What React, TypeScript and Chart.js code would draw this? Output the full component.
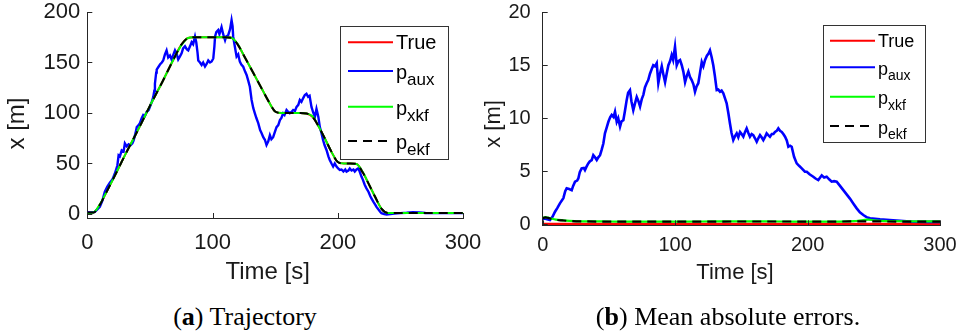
import React, { useEffect, useRef } from 'react';
import { Chart, registerables } from 'chart.js';

Chart.register(...registerables);

const SANS = '"Liberation Sans", Arial, Helvetica, sans-serif';
const SERIF = '"Liberation Serif", "Times New Roman", serif';

// ---------- (a) Trajectory ----------
const xTicks = [0, 100, 200, 300];
const trajYTicks = [0, 50, 100, 150, 200];
const errYTicks = [0, 5, 10, 15, 20];

const trajT = [0, 5, 10, 15, 20, 25, 30, 35, 40, 45, 50, 55, 60, 65, 70, 75, 80, 85, 90, 95, 100, 105, 110, 115, 120, 125, 130, 135, 140, 145, 150, 155, 160, 165, 170, 175, 180, 185, 190, 195, 200, 205, 210, 215, 220, 225, 230, 235, 240, 245, 250, 255, 260, 265, 270, 275, 280, 285, 290, 295, 300];
const trueX = [1.5, 1.5, 9, 21, 33, 45.5, 58, 70, 82, 94.5, 107, 119, 131, 143.5, 156, 167.5, 174, 175, 175, 175, 175, 175, 175, 174.5, 168, 157, 145.5, 134, 122.5, 111, 101.5, 100, 100, 100, 100, 99.5, 96, 86, 74, 61.5, 51.5, 50, 50, 49.5, 41, 29, 16.5, 5, 1, 1, 1, 1, 1, 1, 1, 1, 1, 1, 1, 1, 1];
const xkfX = [1, 1.5, 9.5, 21, 33, 45.5, 58, 70, 82, 94.5, 107, 119, 131, 143.5, 156, 167, 174, 175, 175, 175, 175, 175, 175, 174.5, 168.5, 157, 145.5, 134, 122.5, 111, 101.5, 100, 100, 100, 100, 99.5, 96.5, 86, 74, 61.5, 51.5, 50, 50, 49.5, 41.5, 29, 16.5, 5, 1, 1, 1, 1, 1, 1, 1, 1, 1, 1, 1, 1, 1];
const ekfX = [1.5, 1.5, 9, 21, 33, 45.5, 58, 70, 82, 94.5, 107, 119, 131, 143.5, 156, 167.5, 174, 175, 175, 175, 175, 175, 175, 174.5, 168, 157, 145.5, 134, 122.5, 111, 101.5, 100, 100, 100, 100, 99.5, 96, 86, 74, 61.5, 51.5, 50, 50, 49.5, 41, 29, 16.5, 5, 1, 1, 1, 1, 1, 1, 1, 1, 1, 1, 1, 1, 1];

const auxT = [0, 3, 6, 8, 10, 12, 14, 16, 18, 20, 22, 24, 25, 26, 27.5, 29, 30, 31.5, 33, 34.5, 36, 37, 38.5, 39.5, 41, 42, 43.5, 44.7, 46, 47.4, 49, 50, 51.5, 52.7, 53.5, 54, 55, 55.4, 57, 58, 59.5, 60.6, 62, 63.3, 64.6, 66, 67.3, 68.5, 70, 71.5, 72.6, 74, 75.3, 76.5, 78, 79.5, 80.6, 82, 83.3, 84.5, 86, 87, 88, 88.6, 90, 91.3, 92.5, 94, 95.5, 96.6, 98, 99.3, 100.6, 101.5, 102, 103, 104.5, 105.5, 107.2, 108.5, 110, 111, 112.5, 114, 115.2, 116, 116.5, 117.5, 119.2, 120.5, 121.8, 123, 124.5, 126, 127.2, 128.5, 129.8, 131.2, 132.5, 133.8, 135, 136.5, 138, 139.2, 140.5, 141.8, 143.1, 144.5, 145.8, 147, 148.4, 150, 151.1, 152.5, 153.8, 155, 156.4, 157.5, 159.1, 160.5, 161.7, 163, 164.4, 165.8, 167.1, 168.5, 169.7, 171, 172.5, 173.7, 175, 176.3, 177.5, 179, 180.5, 181.7, 183, 184.5, 185.7, 187, 188.3, 189.5, 191, 192.5, 193.6, 195, 196.3, 197.6, 199, 200.3, 201.6, 203, 204.5, 206, 207, 208.5, 209.6, 211, 212.5, 213.6, 215, 216.2, 217.5, 218.9, 220, 221.5, 222.9, 224.5, 226, 226.9, 228.5, 230, 230.9, 232.5, 234, 234.9, 237, 239, 242, 245, 250, 255, 260, 265, 270, 280, 290, 300];
const auxX = [1.5, 1.5, 2, 4.5, 7, 13, 22, 27, 31, 34, 40, 48, 58, 57, 63, 62, 70, 67, 69, 68, 70, 73, 80, 86, 88, 90, 95, 98, 97, 101, 103, 106, 111, 116, 122, 129, 140, 143, 146, 148, 150, 152, 158, 162, 155, 157, 153, 157, 162, 158, 153, 156, 159, 164, 166, 163, 162, 166, 170, 168, 175.6, 170, 160, 152, 150, 147.5, 150, 146, 149, 152, 150, 151, 154, 166, 175.6, 180, 182, 178, 185, 178, 172, 176, 177, 183, 192, 186, 175.6, 168, 155.8, 158, 150.8, 148, 145.8, 141, 137.6, 132, 126, 112.9, 105, 99.7, 95, 90, 83, 80, 76, 73.5, 68.3, 72, 78, 74, 76, 82, 86, 88, 93, 95, 99.7, 98, 103, 101, 99.7, 101, 103, 102, 106, 108, 112.9, 111, 115, 117.8, 119, 116, 117, 106, 100, 96, 104, 96, 86, 80, 73, 68, 63.4, 57, 53.5, 50, 47, 50, 47, 45, 43.6, 44, 42, 44, 42, 43, 45, 43, 44, 42, 44, 45, 42, 37, 34, 29, 25.4, 22, 17.5, 15.5, 12, 9, 7, 4.5, 2, 0.7, 0, -0.5, 0, 0.5, 0.8, 1.2, 1.8, 1.6, 1, 0.8, 0.8, 0.8];

// ---------- (b) Mean absolute errors ----------
const errTrueT = [0, 300];
const errTrue = [0, 0];

const errAuxT = [0, 2, 5.5, 7.5, 9.3, 11, 13, 15.6, 17, 18.1, 20, 21.9, 23, 24.4, 26, 26.9, 28, 29.4, 31, 31.9, 33, 34.4, 35.5, 37, 38.2, 39.5, 40.8, 42, 43.3, 44.5, 45.8, 47, 48.3, 49.6, 51, 52.1, 53.5, 54.6, 55.9, 57, 58.4, 59.5, 60.9, 62, 63.4, 64.5, 65.9, 67, 68.4, 69.7, 71, 72.3, 73.5, 74.8, 76, 77.2, 78.5, 79.7, 81, 82.2, 83.5, 84.8, 86.1, 87.3, 88.6, 89.9, 91, 92.4, 93.6, 94.9, 96.2, 97.4, 98.5, 99.9, 101.2, 102.5, 103.7, 105, 106.2, 107.5, 108.8, 110, 111.2, 112.5, 113.8, 115, 116.2, 117.5, 118.8, 120.1, 121.3, 122.6, 124, 125.2, 126.3, 127.5, 128.8, 130, 131.4, 132.6, 133.9, 135.1, 136.4, 137.6, 138.9, 140.2, 141.4, 142.6, 143.9, 145.2, 146.5, 147.7, 149, 150.2, 151.5, 152.8, 154, 155.3, 156.5, 157.8, 159, 160.3, 161.6, 162.8, 164.1, 165.3, 166.6, 167.8, 169.1, 170.3, 171.6, 173, 174.2, 175.4, 176.7, 177.9, 179.2, 180.5, 181.7, 183, 184.3, 185.5, 186.8, 188, 189.8, 191.8, 193.6, 195.6, 198, 199.4, 201.5, 204.3, 206, 208.1, 209.5, 210.7, 212.5, 214.4, 216.5, 218.2, 220, 222, 224.5, 227, 229.5, 232, 234.5, 237.1, 239.5, 242.1, 244.5, 247.2, 251, 254.7, 262, 269.8, 279.8, 290, 300];
const errAux = [0.5, 0.5, 0.38, 0.7, 1.16, 1.5, 1.95, 2.45, 3.1, 3.37, 3.3, 3.2, 3.6, 4.0, 4.1, 4.3, 4.9, 5.26, 5.3, 5.1, 5.4, 5.73, 5.9, 6.04, 6.5, 6.3, 6.04, 6.3, 6.5, 7.0, 7.6, 8.56, 9.1, 9.66, 10.1, 10.3, 10.1, 10.6, 9.66, 10.0, 9.2, 9.7, 9.8, 10.6, 11.7, 12.4, 12.65, 11.6, 10.76, 11.4, 12.0, 11.6, 11.1, 11.8, 12.2, 12.9, 13.3, 13.6, 14.2, 14.6, 15.0, 14.9, 15.2, 13.3, 14.2, 14.9, 14.2, 13.4, 14.2, 15.0, 15.4, 15.96, 15.5, 16.75, 15.0, 15.4, 15.5, 15.0, 14.4, 13.4, 14.0, 14.4, 13.9, 13.6, 13.2, 12.5, 13.0, 13.3, 14.3, 15.3, 14.9, 15.5, 15.9, 16.1, 16.4, 15.8, 15.0, 14.0, 12.65, 12.7, 12.5, 12.6, 12.35, 11.9, 11.4, 10.46, 9.5, 8.6, 7.93, 8.3, 8.56, 8.2, 8.7, 8.5, 8.25, 8.7, 9.03, 8.6, 8.25, 8.5, 8.4, 8.1, 7.77, 8.1, 8.4, 8.2, 7.93, 8.2, 8.56, 8.4, 8.25, 8.5, 8.5, 8.7, 8.8, 9.03, 8.8, 8.7, 8.5, 8.25, 7.9, 7.3, 7.4, 7.3, 6.35, 5.73, 5.5, 5.26, 4.94, 4.94, 4.7, 4.47, 4.3, 4.15, 4.4, 4.6, 4.4, 4.47, 4.2, 4.0, 4.05, 4.0, 3.6, 3.2, 2.8, 2.4, 1.95, 1.48, 1.1, 0.85, 0.65, 0.54, 0.5, 0.45, 0.38, 0.31, 0.22, 0.2, 0.2];

const errKfT = [0, 2, 4, 7, 10, 15, 20, 30, 50, 80, 120, 150, 180, 210, 235, 242, 246, 250, 260, 280, 300];
const errXkf = [0.55, 0.65, 0.6, 0.5, 0.42, 0.35, 0.3, 0.26, 0.24, 0.22, 0.24, 0.25, 0.24, 0.23, 0.28, 0.38, 0.42, 0.35, 0.27, 0.26, 0.25];
const errEkf = [0.55, 0.62, 0.58, 0.48, 0.4, 0.34, 0.29, 0.25, 0.23, 0.22, 0.23, 0.24, 0.24, 0.23, 0.25, 0.26, 0.26, 0.25, 0.24, 0.23, 0.22];

const seriesLabels = ['True', 'p_aux', 'p_xkf', 'p_ekf'];
const seriesColors = ['#ff0000', '#0000ff', '#00ff00', '#000000'];

function zip(xs: number[], ys: number[]) {
  return xs.map((x, i) => ({ x, y: ys[i] }));
}

type DecorCfg = {
  tickLen: number;
  titleFont: number;
  yTitle: { x: number; y: number };
  xTitle: { x: number; y: number };
  legend: {
    x0: number; y0: number; x1: number; y1: number;
    rows: number[];
    lineX0: number; lineX1: number; textX: number;
    font: number; subFont: number;
    plainOff: number; mainOff: number; subOff: number;
  };
};

function makeDecor(cfg: DecorCfg) {
  return {
    id: 'decor',
    afterDraw(chart: any) {
      const ctx: CanvasRenderingContext2D = chart.ctx;
      const { left, bottom } = chart.chartArea;
      const xs = chart.scales.x;
      const ys = chart.scales.y;
      ctx.save();
      // inward tick marks
      ctx.strokeStyle = '#262626';
      ctx.lineWidth = 1;
      ctx.beginPath();
      xs.ticks.forEach((t: any) => {
        const px = Math.round(xs.getPixelForValue(t.value)) + 0.5;
        ctx.moveTo(px, bottom);
        ctx.lineTo(px, bottom - cfg.tickLen);
      });
      ys.ticks.forEach((t: any) => {
        const py = Math.round(ys.getPixelForValue(t.value)) + 0.5;
        ctx.moveTo(left, py);
        ctx.lineTo(left + cfg.tickLen, py);
      });
      ctx.stroke();

      // axis titles
      ctx.fillStyle = '#1a1a1a';
      ctx.font = `${cfg.titleFont}px ${SANS}`;
      ctx.textAlign = 'center';
      ctx.textBaseline = 'alphabetic';
      ctx.fillText('Time [s]', cfg.xTitle.x, cfg.xTitle.y);
      ctx.save();
      ctx.translate(cfg.yTitle.x, cfg.yTitle.y);
      ctx.rotate(-Math.PI / 2);
      ctx.textBaseline = 'middle';
      ctx.fillText('x [m]', 0, 0);
      ctx.restore();

      // legend
      const L = cfg.legend;
      ctx.fillStyle = '#ffffff';
      ctx.fillRect(L.x0, L.y0, L.x1 - L.x0, L.y1 - L.y0);
      ctx.strokeStyle = '#333333';
      ctx.lineWidth = 1;
      ctx.strokeRect(L.x0 + 0.5, L.y0 + 0.5, L.x1 - L.x0 - 1, L.y1 - L.y0 - 1);
      chart.data.datasets.forEach((ds: any, i: number) => {
        const y = L.rows[i];
        ctx.save();
        ctx.strokeStyle = ds.borderColor;
        ctx.lineWidth = 2;
        ctx.setLineDash(ds.borderDash || []);
        ctx.beginPath();
        ctx.moveTo(L.lineX0, y);
        ctx.lineTo(L.lineX1, y);
        ctx.stroke();
        ctx.restore();
        ctx.fillStyle = '#000000';
        ctx.textAlign = 'left';
        ctx.textBaseline = 'alphabetic';
        const parts = String(ds.label).split('_');
        ctx.font = `${L.font}px ${SANS}`;
        if (parts.length === 1) {
          ctx.fillText(parts[0], L.textX, y + L.plainOff);
        } else {
          ctx.fillText(parts[0], L.textX, y + L.mainOff);
          const w = ctx.measureText(parts[0]).width;
          ctx.font = `${L.subFont}px ${SANS}`;
          ctx.fillText(parts[1], L.textX + w, y + L.subOff);
        }
      });
      ctx.restore();
    },
  };
}

function buildChart(
  canvas: HTMLCanvasElement,
  sets: { x: number; y: number }[][],
  opts: {
    yMin: number; yMax: number; yTicks: number[];
    tickFont: number; yPad: number; xPad: number;
    yWidth: number; xHeight: number;
    padTop: number; padRight: number;
    widths: number[];
    decor: DecorCfg;
  }
) {
  const orders = [4, 3, 2, 1];
  return new Chart(canvas, {
    type: 'line',
    data: {
      datasets: sets.map((d, i) => ({
        label: seriesLabels[i],
        data: d,
        borderColor: seriesColors[i],
        backgroundColor: seriesColors[i],
        borderWidth: opts.widths[i],
        borderDash: i === 3 ? [9, 6] : [],
        pointRadius: 0,
        fill: false,
        order: orders[i],
        cubicInterpolationMode: i === 1 ? 'default' : 'monotone',
        tension: 0,
      })),
    },
    options: {
      animation: false,
      responsive: false,
      events: [],
      layout: { padding: { left: 0, top: opts.padTop, right: opts.padRight, bottom: 0 } },
      plugins: { legend: { display: false }, tooltip: { enabled: false } },
      scales: {
        x: {
          type: 'linear',
          min: 0,
          max: 300,
          afterBuildTicks: (s: any) => { s.ticks = xTicks.map((v) => ({ value: v })); },
          afterFit: (s: any) => { s.height = opts.xHeight; },
          grid: { display: true, drawOnChartArea: false, drawTicks: false },
          border: { display: true, color: '#262626', width: 1 },
          ticks: {
            padding: opts.xPad,
            maxRotation: 0,
            color: '#1a1a1a',
            font: { family: SANS, size: opts.tickFont },
          },
        },
        y: {
          type: 'linear',
          min: opts.yMin,
          max: opts.yMax,
          afterBuildTicks: (s: any) => { s.ticks = opts.yTicks.map((v) => ({ value: v })); },
          afterFit: (s: any) => { s.width = opts.yWidth; },
          grid: { display: true, drawOnChartArea: false, drawTicks: false },
          border: { display: true, color: '#262626', width: 1 },
          ticks: {
            padding: opts.yPad,
            color: '#1a1a1a',
            font: { family: SANS, size: opts.tickFont },
          },
        },
      },
    },
    plugins: [makeDecor(opts.decor)],
  } as any);
}

export default function App() {
  const leftRef = useRef<HTMLCanvasElement>(null);
  const rightRef = useRef<HTMLCanvasElement>(null);

  useEffect(() => {
    const left = buildChart(
      leftRef.current!,
      [zip(trajT, trueX), zip(auxT, auxX), zip(trajT, xkfX), zip(trajT, ekfX)],
      {
        yMin: -4, yMax: 200, yTicks: trajYTicks,
        tickFont: 22, yPad: 7, xPad: 12,
        yWidth: 87.3, xHeight: 72,
        padTop: 32, padRight: 37,
        widths: [2, 2.4, 2, 2],
        decor: {
          tickLen: 5,
          titleFont: 24,
          yTitle: { x: 17, y: 143.5 },
          xTitle: { x: 267.7, y: 299 },
          legend: {
            x0: 340, y0: 46, x1: 449, y1: 180,
            rows: [62.3, 91, 126.7, 161],
            lineX0: 348, lineX1: 393, textX: 396,
            font: 20, subFont: 17,
            plainOff: 6.8, mainOff: 8.3, subOff: 14.3,
          },
        },
      }
    );
    const right = buildChart(
      rightRef.current!,
      [zip(errTrueT, errTrue), zip(errAuxT, errAux), zip(errKfT, errXkf), zip(errKfT, errEkf)],
      {
        yMin: -0.12, yMax: 20, yTicks: errYTicks,
        tickFont: 20, yPad: 12, xPad: 8,
        yWidth: 62.7, xHeight: 64.7,
        padTop: 32.3, padRight: 27,
        widths: [2.5, 2.6, 2.2, 2.2],
        decor: {
          tickLen: 5,
          titleFont: 22,
          yTitle: { x: 14, y: 144 },
          xTitle: { x: 255, y: 299 },
          legend: {
            x0: 343, y0: 45, x1: 446, y1: 163,
            rows: [60.7, 87.3, 116.7, 146],
            lineX0: 350, lineX1: 395, textX: 398,
            font: 18, subFont: 14,
            plainOff: 6.3, mainOff: 7.5, subOff: 12.8,
          },
        },
      }
    );
    return () => {
      left.destroy();
      right.destroy();
    };
  }, []);

  return (
    <div
      style={{
        position: 'fixed',
        left: 0,
        top: 0,
        width: 967,
        height: 335,
        background: '#ffffff',
        overflow: 'hidden',
      }}
    >
      <canvas
        ref={leftRef}
        width={500}
        height={310}
        style={{ position: 'absolute', left: 0, top: -20, width: 500, height: 310 }}
      />
      <canvas
        ref={rightRef}
        width={487}
        height={310}
        style={{ position: 'absolute', left: 480, top: -20, width: 487, height: 310 }}
      />
      <div
        style={{
          position: 'absolute',
          left: 95,
          top: 304,
          width: 300,
          textAlign: 'center',
          font: `26px ${SERIF}`,
          lineHeight: '26px',
          color: '#000',
          whiteSpace: 'nowrap',
        }}
      >
        (<b>a</b>) Trajectory
      </div>
      <div
        style={{
          position: 'absolute',
          left: 528,
          top: 304,
          width: 400,
          textAlign: 'center',
          font: `26px ${SERIF}`,
          lineHeight: '26px',
          color: '#000',
          whiteSpace: 'nowrap',
        }}
      >
        (<b>b</b>) Mean absolute errors.
      </div>
    </div>
  );
}
